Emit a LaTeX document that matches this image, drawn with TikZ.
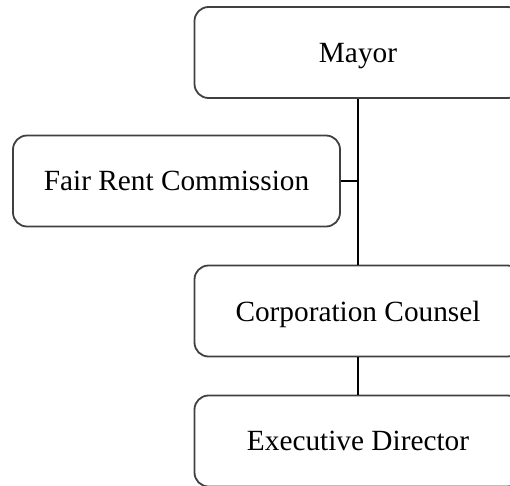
\documentclass[tikz,border=0pt]{standalone}
\usepackage{fontspec}
\setmainfont{Liberation Serif}
\begin{document}
\begin{tikzpicture}[x=1pt,y=-1pt,
  orgbox/.style={draw=black!75, line width=1.8pt, rounded corners=14pt, minimum width=327pt, minimum height=91pt, inner sep=0pt, text depth=0pt, font=\fontsize{29.3}{34}\selectfont},
  conn/.style={draw=black, line width=2pt}]
\useasboundingbox (0,0) rectangle (510,485);
\clip (0,0) rectangle (510,485);
\node[orgbox] (mayor) at (358,52.5) {Mayor};
\node[orgbox] (frc) at (176.5,181) {Fair Rent Commission};
\node[orgbox] (cc) at (358,311) {Corporation Counsel};
\node[orgbox] (ed) at (358,441) {Executive Director};
\coordinate (j) at (358,181);
\draw[conn] (mayor.south) -- (cc.north);
\draw[conn] (frc.east) -- (j);
\draw[conn] (cc.south) -- (ed.north);
\end{tikzpicture}
\end{document}
